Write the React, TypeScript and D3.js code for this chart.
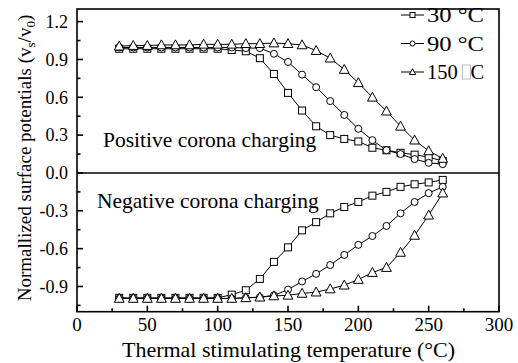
import React from "react";
import * as d3 from "d3";

const temps = [30, 40, 50, 60, 70, 80, 90, 100, 110, 120, 130, 140, 150, 160, 170, 180, 190, 200, 210, 220, 230, 240, 250, 260];

const pos30 = [0.985, 0.985, 0.985, 0.985, 0.985, 0.985, 0.985, 0.985, 0.975, 0.965, 0.91, 0.785, 0.635, 0.495, 0.37, 0.3, 0.27, 0.25, 0.2, 0.18, 0.16, 0.145, 0.125, 0.095];
const pos90 = [0.995, 0.995, 0.995, 0.995, 0.995, 0.995, 0.995, 0.995, 0.995, 0.99, 0.99, 0.945, 0.88, 0.78, 0.68, 0.57, 0.46, 0.35, 0.26, 0.18, 0.15, 0.11, 0.08, 0.07];
const pos150 = [1.005, 1.01, 1.01, 1.015, 1.015, 1.015, 1.02, 1.02, 1.02, 1.025, 1.025, 1.03, 1.025, 1.015, 0.97, 0.91, 0.82, 0.715, 0.6, 0.49, 0.37, 0.26, 0.175, 0.115];

const neg30 = [-0.99, -0.99, -0.99, -0.99, -0.99, -0.99, -0.99, -0.99, -0.965, -0.93, -0.84, -0.705, -0.59, -0.455, -0.39, -0.32, -0.27, -0.23, -0.18, -0.15, -0.11, -0.09, -0.075, -0.055];
const neg90 = [-0.995, -0.995, -0.995, -0.995, -0.995, -0.995, -0.995, -0.995, -0.995, -0.99, -0.985, -0.97, -0.925, -0.86, -0.8, -0.73, -0.65, -0.57, -0.5, -0.42, -0.32, -0.23, -0.16, -0.11];
const neg150 = [-0.995, -0.995, -0.995, -0.995, -0.995, -0.995, -0.995, -0.995, -0.995, -0.99, -0.985, -0.975, -0.97, -0.955, -0.945, -0.92, -0.89, -0.845, -0.79, -0.75, -0.63, -0.495, -0.335, -0.16];

const xTicks = [0, 50, 100, 150, 200, 250, 300];
const xMinor = [25, 75, 125, 175, 225, 275];
const yTicks = [1.2, 0.9, 0.6, 0.3, 0.0, -0.3, -0.6, -0.9];
const yTickLabels = ["1.2", "0.9", "0.6", "0.3", "0.0", "-0.3", "-0.6", "-0.9"];
const yMinor = [1.05, 0.75, 0.45, 0.15, -0.15, -0.45, -0.75, -1.05];

const legendLabels = ["30 °C", "90 °C", "150"];

const FONT = "'Liberation Serif', 'Times New Roman', serif";

const L = 77, R = 499, T = 9, B = 311.7;

export default function App() {
  const x = d3.scaleLinear().domain([0, 300]).range([L, R]);
  const y = d3.scaleLinear().domain([-1.1, 1.3]).range([B, T]);
  const line = d3.line<[number, number]>().x(d => x(d[0])).y(d => y(d[1]));

  const series = [
    { kind: "square", pos: pos30, neg: neg30 },
    { kind: "circle", pos: pos90, neg: neg90 },
    { kind: "triangle", pos: pos150, neg: neg150 },
  ];

  const marker = (kind: string, cx: number, cy: number, s: number, key: any) => {
    if (kind === "square") {
      return <rect key={key} x={cx - s / 2} y={cy - s / 2} width={s} height={s} fill="white" stroke="black" strokeWidth={1} />;
    }
    if (kind === "circle") {
      return <circle key={key} cx={cx} cy={cy} r={s / 2} fill="white" stroke="black" strokeWidth={1} />;
    }
    const h = s * 1.0;
    const w = s * 1.15;
    return (
      <path key={key} d={`M${cx},${cy - h * 0.6} L${cx + w / 2},${cy + h * 0.45} L${cx - w / 2},${cy + h * 0.45} Z`} fill="white" stroke="black" strokeWidth={1} />
    );
  };

  return (
    <svg width={518} height={363} style={{ position: "absolute", left: 0, top: 0, background: "white" }} fontFamily={FONT}>
      <rect x={0} y={0} width={518} height={363} fill="white" />
      {series.map((s, i) => (
        <g key={i}>
          <path d={line(temps.map((t, j) => [t, s.pos[j]]) as [number, number][]) || ""} fill="none" stroke="black" strokeWidth={1} />
          <path d={line(temps.map((t, j) => [t, s.neg[j]]) as [number, number][]) || ""} fill="none" stroke="black" strokeWidth={1} />
        </g>
      ))}
      {series.map((s, i) => (
        <g key={"m" + i}>
          {temps.map((t, j) => marker(s.kind, x(t), y(s.pos[j]), s.kind === "triangle" ? 8.5 : 7, "p" + j))}
          {temps.map((t, j) => marker(s.kind, x(t), y(s.neg[j]), s.kind === "triangle" ? 8.5 : 7, "n" + j))}
        </g>
      ))}
      <rect x={L} y={T} width={R - L} height={B - T} fill="none" stroke="black" strokeWidth={1.6} />
      <line x1={L} x2={R} y1={y(0)} y2={y(0)} stroke="black" strokeWidth={1.6} />
      {yTicks.map((v, i) => (
        <g key={"yt" + i}>
          <line x1={L} x2={L + 6} y1={y(v)} y2={y(v)} stroke="black" strokeWidth={1.6} />
          <text x={L - 9} y={y(v)} dy="0.35em" textAnchor="end" fontSize={18}>{yTickLabels[i]}</text>
        </g>
      ))}
      {yMinor.map((v, i) => (
        <line key={"ym" + i} x1={L} x2={L + 3.5} y1={y(v)} y2={y(v)} stroke="black" strokeWidth={1.6} />
      ))}
      {xTicks.map((v, i) => (
        <g key={"xt" + i}>
          <line x1={x(v)} x2={x(v)} y1={B} y2={B - 6} stroke="black" strokeWidth={1.6} />
          <text x={x(v)} y={331} textAnchor="middle" fontSize={19}>{v}</text>
        </g>
      ))}
      {xMinor.map((v, i) => (
        <line key={"xm" + i} x1={x(v)} x2={x(v)} y1={B} y2={B - 3.5} stroke="black" strokeWidth={1.6} />
      ))}
      <text x={103} y={147} fontSize={21.5}>Positive corona charging</text>
      <text x={97} y={208} fontSize={21.5}>Negative corona charging</text>
      <text x={122} y={357} fontSize={21} textLength={333} lengthAdjust="spacingAndGlyphs">Thermal stimulating temperature (°C)</text>
      <text transform={`translate(31,158) rotate(-90)`} textAnchor="middle" fontSize={19}>
        Normallized surface potentials (v<tspan fontSize={13} dy={4}>s</tspan><tspan dy={-4}>/v</tspan><tspan fontSize={13} dy={4}>0</tspan><tspan dy={-4}>)</tspan>
      </text>
      {series.map((s, i) => {
        const ly = 15 + i * 28.5;
        return (
          <g key={"lg" + i}>
            <line x1={401} x2={424} y1={ly} y2={ly} stroke="black" strokeWidth={1} />
            {marker(s.kind, 412.5, ly, s.kind === "triangle" ? 5.5 : 5, "lm" + i)}
            {i < 2 ? (
              <text x={427} y={ly} dy="0.35em" fontSize={20.5} textLength={57} lengthAdjust="spacingAndGlyphs">
                {legendLabels[i]}
              </text>
            ) : (
              <g>
                <text x={427} y={ly} dy="0.35em" fontSize={20.5}>{legendLabels[i]}</text>
                <rect x={462.5} y={ly - 7} width={8} height={14} fill="none" stroke="#aaa" strokeWidth={0.8} />
                <text x={470.5} y={ly} dy="0.35em" fontSize={20.5}>C</text>
              </g>
            )}
          </g>
        );
      })}
    </svg>
  );
}
